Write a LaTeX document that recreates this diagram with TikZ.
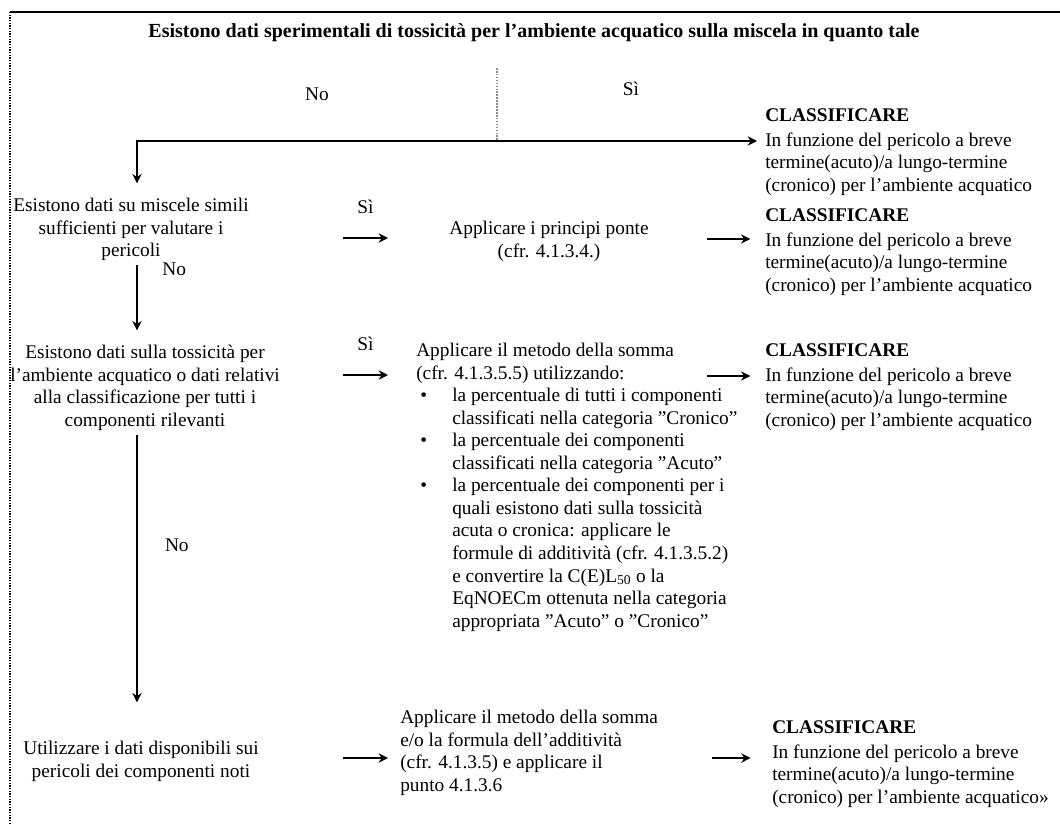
\documentclass[tikz,border=0pt]{standalone}
\usepackage{fontspec}
\setmainfont{Liberation Serif}
\usetikzlibrary{arrows.meta, positioning, calc}
\newcommand{\testo}{\fontsize{14.5}{16.9}\selectfont}
\newcommand{\voce}{\makebox[27pt][l]{\hspace{3pt}\textbullet}}
\newcommand{\rientro}{\hspace*{27pt}}
\tikzset{
    titolo/.style={
        font=\fontsize{15}{18}\selectfont\bfseries,
        inner sep=0pt,
    },
    domanda/.style={
        font=\testo,
        align=center,
        inner sep=0pt,
    },
    metodo/.style={
        font=\testo,
        align=left,
        inner sep=0pt,
    },
    esito/.style={
        font=\testo,
        align=left,
        inner sep=0pt,
        anchor=north west,
    },
    etichetta/.style={
        font=\testo,
        inner sep=0pt,
    },
    freccia/.style={
        -{Stealth[length=7pt, width=7pt]},
        line width=2pt,
        color=black,
    },
    filo/.style={
        densely dotted,
        line width=1.2pt,
        color=black!45,
    },
    bordo/.style={
        line width=1.5pt,
        color=black,
    },
    bordosx/.style={
        densely dotted,
        line width=1pt,
        color=black,
    },
}

\begin{document}
\begin{tikzpicture}[x=0.75pt, y=-0.75pt]
\useasboundingbox (0,0) rectangle (1060,825);

% ===== cornice =====
\coordinate (nw) at (10,12);
\coordinate (sw) at (10,825);
\coordinate (ne) at (1060,12);
\draw[bordo] (nw) -- (ne);
\draw[bordosx] (nw) -- (sw);

% ===== titolo =====
\node[titolo] (titolo) at (534,33) {Esistono dati sperimentali di tossicità per l’ambiente acquatico sulla miscela in quanto tale};

% ===== colonna sinistra =====
\node[domanda, anchor=north] (q1) at (131,198) {Esistono dati su miscele simili\\sufficienti per valutare i\\pericoli};
\node[domanda, anchor=north] (q2) at (145,345) {Esistono dati sulla tossicità per\\l’ambiente acquatico o dati relativi\\alla classificazione per tutti i\\componenti rilevanti};
\node[domanda, anchor=north] (q3) at (141,741) {Utilizzare i dati disponibili sui\\pericoli dei componenti noti};

% ===== colonna centrale =====
\node[domanda, anchor=north] (a1) at (549,221) {Applicare i principi ponte\\(cfr. 4.1.3.4.)};
\node[metodo, anchor=north west] (a2) at (416,343) {Applicare il metodo della somma\\(cfr. 4.1.3.5.5) utilizzando:\\
\voce la percentuale di tutti i componenti\\\rientro classificati nella categoria ”Cronico”\\
\voce la percentuale dei componenti\\\rientro classificati nella categoria ”Acuto”\\
\voce la percentuale dei componenti per i\\\rientro quali esistono dati sulla tossicità\\\rientro acuta o cronica: applicare le\\\rientro formule di additività (cfr. 4.1.3.5.2)\\\rientro e convertire la C(E)L\textsubscript{50} o la\\\rientro EqNOECm ottenuta nella categoria\\\rientro appropriata ”Acuto” o ”Cronico”};
\node[metodo, anchor=north west] (a3) at (400,710) {Applicare il metodo della somma\\e/o la formula dell’additività\\(cfr. 4.1.3.5) e applicare il\\punto 4.1.3.6};

% ===== colonna destra =====
\node[esito] (cls1) at (765,108) {\textbf{CLASSIFICARE}\\[2pt]In funzione del pericolo a breve\\termine(acuto)/a lungo-termine\\(cronico) per l’ambiente acquatico};
\node[esito] (cls2) at (765,208) {\textbf{CLASSIFICARE}\\[2pt]In funzione del pericolo a breve\\termine(acuto)/a lungo-termine\\(cronico) per l’ambiente acquatico};
\node[esito] (cls3) at (765,343) {\textbf{CLASSIFICARE}\\[2pt]In funzione del pericolo a breve\\termine(acuto)/a lungo-termine\\(cronico) per l’ambiente acquatico};
\node[esito] (cls4) at (772,720) {\textbf{CLASSIFICARE}\\[2pt]In funzione del pericolo a breve\\termine(acuto)/a lungo-termine\\(cronico) per l’ambiente acquatico»};

% ===== bivio iniziale =====
\coordinate (cima) at (497,68);
\coordinate (bivio) at (497,141);
\coordinate (angolo) at (137,141);
\draw[filo] (cima) -- (bivio);
\draw[freccia, shorten >=6pt] (bivio) -- node[etichetta, above=33pt] (si0) {Sì} (bivio -| cls1.west);
\draw[freccia, shorten >=11pt] (bivio) -- node[etichetta, above=29pt] (no0) {No} (angolo) -- (angolo |- q1.north);

% ===== frecce verticali (No) =====
\draw[freccia, shorten <=3pt, shorten >=11pt] (angolo |- q1.south) -- node[etichetta, pos=0.1, right=18pt] (no1) {No} (angolo |- q2.north);
\draw[freccia, shorten <=3pt, shorten >=29pt] (angolo |- q2.south) -- node[etichetta, pos=0.37, right=20pt] (no2) {No} (angolo |- q3.north);

% ===== frecce orizzontali =====
\coordinate (s1a) at (343,238);
\coordinate (s1b) at (388,238);
\coordinate (s2a) at (343,375);
\coordinate (s2b) at (388,375);
\coordinate (s3a) at (343,758);
\coordinate (s3b) at (388,758);
\draw[freccia] (s1a) -- node[etichetta, above=17pt] (si1) {Sì} (s1b);
\draw[freccia] (s2a) -- node[etichetta, above=17pt] (si2) {Sì} (s2b);
\draw[freccia] (s3a) -- (s3b);

\coordinate (c2a) at (707,239);
\coordinate (c3a) at (707,376);
\coordinate (c4a) at (712,758);
\draw[freccia, shorten >=11pt] (c2a) -- (c2a -| cls2.west);
\draw[freccia, shorten >=11pt] (c3a) -- (c3a -| cls3.west);
\draw[freccia, shorten >=16pt] (c4a) -- (c4a -| cls4.west);

\end{tikzpicture}
\end{document}
